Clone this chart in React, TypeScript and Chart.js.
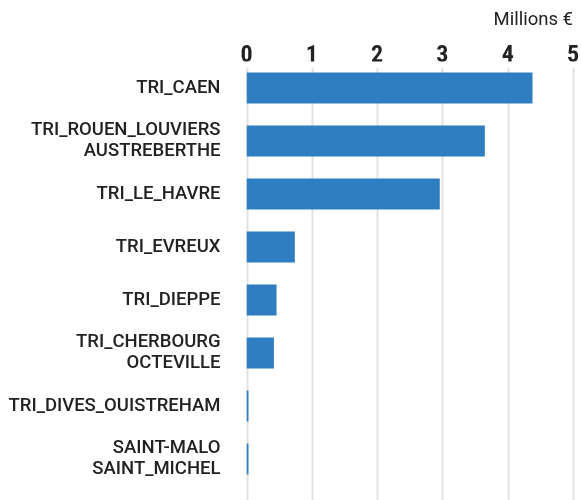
import React, { useEffect, useRef } from "react";
import { Chart, registerables } from "chart.js";

Chart.register(...registerables);

const categories: string[][] = [
  ["TRI_CAEN"],
  ["TRI_ROUEN_LOUVIERS", "AUSTREBERTHE"],
  ["TRI_LE_HAVRE"],
  ["TRI_EVREUX"],
  ["TRI_DIEPPE"],
  ["TRI_CHERBOURG", "OCTEVILLE"],
  ["TRI_DIVES_OUISTREHAM"],
  ["SAINT-MALO", "SAINT_MICHEL"],
];
const values: number[] = [4.38, 3.65, 2.96, 0.74, 0.46, 0.42, 0.03, 0.03];
const xTicks: number[] = [0, 1, 2, 3, 4, 5];
const unitLabel = "Millions €";

const BAR_COLOR = "#2f7ec2";
const GRID_COLOR = "#e2e2e2";
const TEXT_COLOR = "#222222";

const gridPlugin = {
  id: "customGrid",
  beforeDatasetsDraw(chart: any) {
    const x = chart.scales.x;
    const { ctx, chartArea } = chart;
    ctx.save();
    ctx.strokeStyle = GRID_COLOR;
    ctx.lineWidth = 2;
    x.ticks.forEach((t: any) => {
      const px = Math.round(x.getPixelForValue(t.value)) + 0.5;
      ctx.beginPath();
      ctx.moveTo(px, chartArea.top + 6);
      ctx.lineTo(px, chart.height);
      ctx.stroke();
    });
    ctx.restore();
  },
};

export default function App() {
  const ref = useRef<HTMLCanvasElement | null>(null);
  useEffect(() => {
    if (!ref.current) return;
    const chart = new Chart(ref.current, {
      type: "bar",
      data: {
        labels: categories,
        datasets: [
          {
            data: values,
            backgroundColor: BAR_COLOR,
            borderWidth: 0,
            categoryPercentage: 1,
            barPercentage: 0.585,
          },
        ],
      },
      plugins: [gridPlugin],
      options: {
        indexAxis: "y",
        animation: false,
        responsive: true,
        maintainAspectRatio: false,
        layout: { padding: { left: 8, right: 8, top: 0, bottom: 14.5 } },
        plugins: { legend: { display: false }, tooltip: { enabled: false } },
        scales: {
          x: {
            position: "top",
            min: xTicks[0],
            max: xTicks[xTicks.length - 1],
            afterBuildTicks: (s: any) => {
              s.ticks = xTicks.map((v) => ({ value: v }));
            },
            grid: { display: false, drawTicks: false },
            border: { display: false },
            ticks: {
              padding: 0,
              color: TEXT_COLOR,
              font: {
                family: '"Roboto Condensed", "Liberation Sans Narrow", "DejaVu Sans Condensed", Roboto, sans-serif',
                size: 24,
                weight: "bold",
                lineHeight: 0.431,
              },
            },
            title: {
              display: true,
              text: unitLabel,
              align: "end",
              color: TEXT_COLOR,
              padding: { top: 9, bottom: 19.9 },
              font: { family: "Roboto, sans-serif", size: 18.5, lineHeight: 1.2 },
            },
          },
          y: {
            afterFit: (s: any) => {
              s.paddingTop = 0;
              s.paddingBottom = 0;
              s.width = 238.5;
            },
            grid: { display: false, drawTicks: false },
            border: { display: false },
            ticks: {
              padding: 26,
              color: TEXT_COLOR,
              font: { family: "Roboto, sans-serif", size: 18.5, weight: 500, lineHeight: 1.12 },
            },
          },
        },
      },
    } as any);
    return () => chart.destroy();
  }, []);
  return (
    <div style={{ position: "fixed", left: 0, top: 0, width: 581, height: 500 }}>
      <canvas ref={ref} />
    </div>
  );
}
